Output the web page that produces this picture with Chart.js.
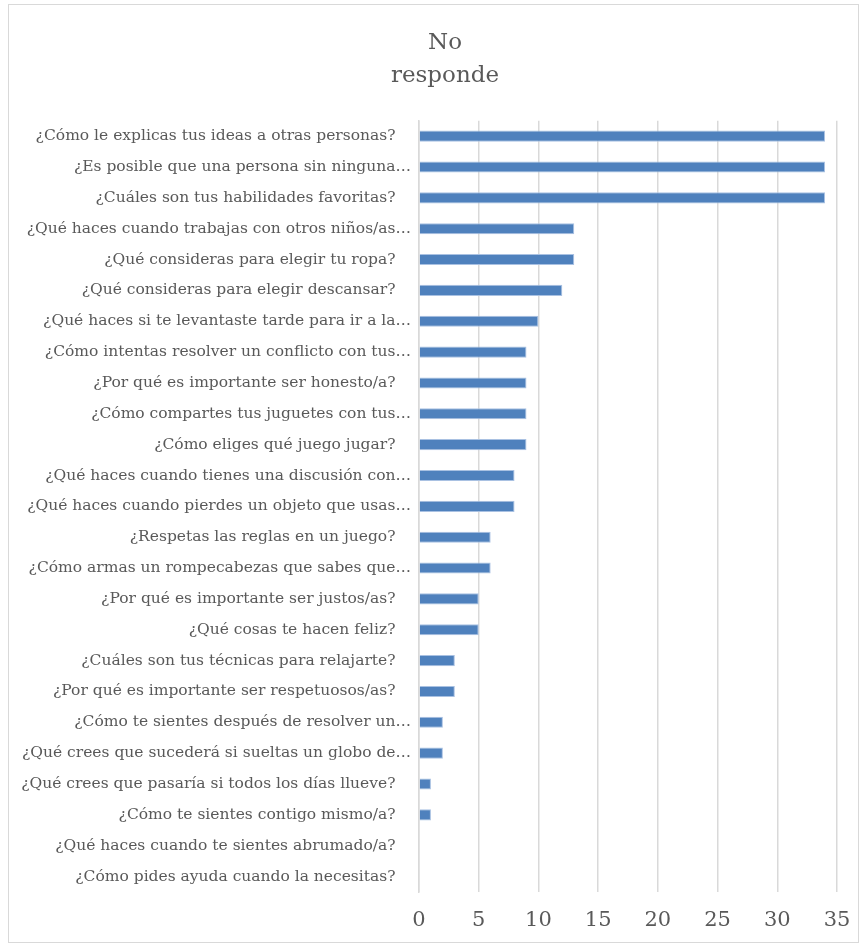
<!DOCTYPE html>
<html>
<head>
<meta charset="utf-8">
<script src="https://cdn.jsdelivr.net/npm/chart.js@4.4.1/dist/chart.umd.min.js"></script>
<style>
  html, body { margin: 0; padding: 0; background: #fff; }
  #frame { position: absolute; left: 8px; top: 4px; width: 849px; height: 937px; border: 1px solid #d9d9d9; }
  #wrap { position: absolute; left: 0; top: 0; width: 868px; height: 946px; }
</style>
</head>
<body>
<div id="frame"></div>
<div id="wrap"><canvas id="chart"></canvas></div>
<script>
// Categories top to bottom, as they appear in the picture
const questions = [
    '¿Cómo le explicas tus ideas a otras personas?',
    '¿Es posible que una persona sin ninguna…',
    '¿Cuáles son tus habilidades favoritas?',
    '¿Qué haces cuando trabajas con otros niños/as…',
    '¿Qué consideras para elegir tu ropa?',
    '¿Qué consideras para elegir descansar?',
    '¿Qué haces si te levantaste tarde para ir a la…',
    '¿Cómo intentas resolver un conflicto con tus…',
    '¿Por qué es importante ser honesto/a?',
    '¿Cómo compartes tus juguetes con tus…',
    '¿Cómo eliges qué juego jugar?',
    '¿Qué haces cuando tienes una discusión con…',
    '¿Qué haces cuando pierdes un objeto que usas…',
    '¿Respetas las reglas en un juego?',
    '¿Cómo armas un rompecabezas que sabes que…',
    '¿Por qué es importante ser justos/as?',
    '¿Qué cosas te hacen feliz?',
    '¿Cuáles son tus técnicas para relajarte?',
    '¿Por qué es importante ser respetuosos/as?',
    '¿Cómo te sientes después de resolver un…',
    '¿Qué crees que sucederá si sueltas un globo de…',
    '¿Qué crees que pasaría si todos los días llueve?',
    '¿Cómo te sientes contigo mismo/a?',
    '¿Qué haces cuando te sientes abrumado/a?',
    '¿Cómo pides ayuda cuando la necesitas?'
];
const noResponde = [34, 34, 34, 13, 13, 12, 10, 9, 9, 9, 9, 8, 8, 6, 6, 5, 5, 3, 3, 2, 2, 1, 1, 0, 0];
const titleLines = ['No', 'responde'];
const xMin = 0, xMax = 35, xStep = 5;

const textColor = '#595959';
const gridColor = '#d9d9d9';

const ctx = document.getElementById('chart').getContext('2d');
new Chart(ctx, {
    type: 'bar',
    data: {
        labels: questions,
        datasets: [{
            label: titleLines.join(' '),
            data: noResponde,
            backgroundColor: '#4f81bd',
            borderColor: '#a9c1e2',
            borderWidth: 1,
            barPercentage: 0.36,
            categoryPercentage: 1
        }]
    },
    options: {
        indexAxis: 'y',
        responsive: true,
        maintainAspectRatio: false,
        animation: false,
        layout: { padding: { left: 22, right: 0, top: 0, bottom: 0 } },
        plugins: {
            legend: { display: false },
            tooltip: { enabled: false },
            title: {
                display: true,
                text: titleLines,
                color: textColor,
                font: { family: 'DejaVu Serif', size: 23, weight: 'normal', lineHeight: 1.45 },
                padding: { top: 26, bottom: 28 }
            }
        },
        scales: {
            x: {
                min: xMin,
                max: xMax,
                ticks: { stepSize: xStep, color: textColor, padding: 16,
                    font: { family: 'DejaVu Serif', size: 21 } },
                grid: { color: gridColor, lineWidth: 1.5, drawTicks: false },
                border: { display: false },
                afterFit: function(axis) { axis.height = 54; axis.paddingRight = 31; }
            },
            y: {
                ticks: {
                    color: textColor,
                    autoSkip: false,
                    padding: 0,
                    font: { family: 'DejaVu Serif', size: 15.5 },
                    callback: function(value) {
                        const lbl = this.getLabelForValue(value);
                        // full questions sit a little further from the axis than cut ones
                        return lbl.endsWith('…') ? lbl : lbl + '\u2003';
                    }
                },
                grid: { display: false },
                border: { display: true, color: gridColor, width: 1.5 },
                afterFit: function(axis) { axis.width = 397; }
            }
        }
    }
});
</script>
</body>
</html>
